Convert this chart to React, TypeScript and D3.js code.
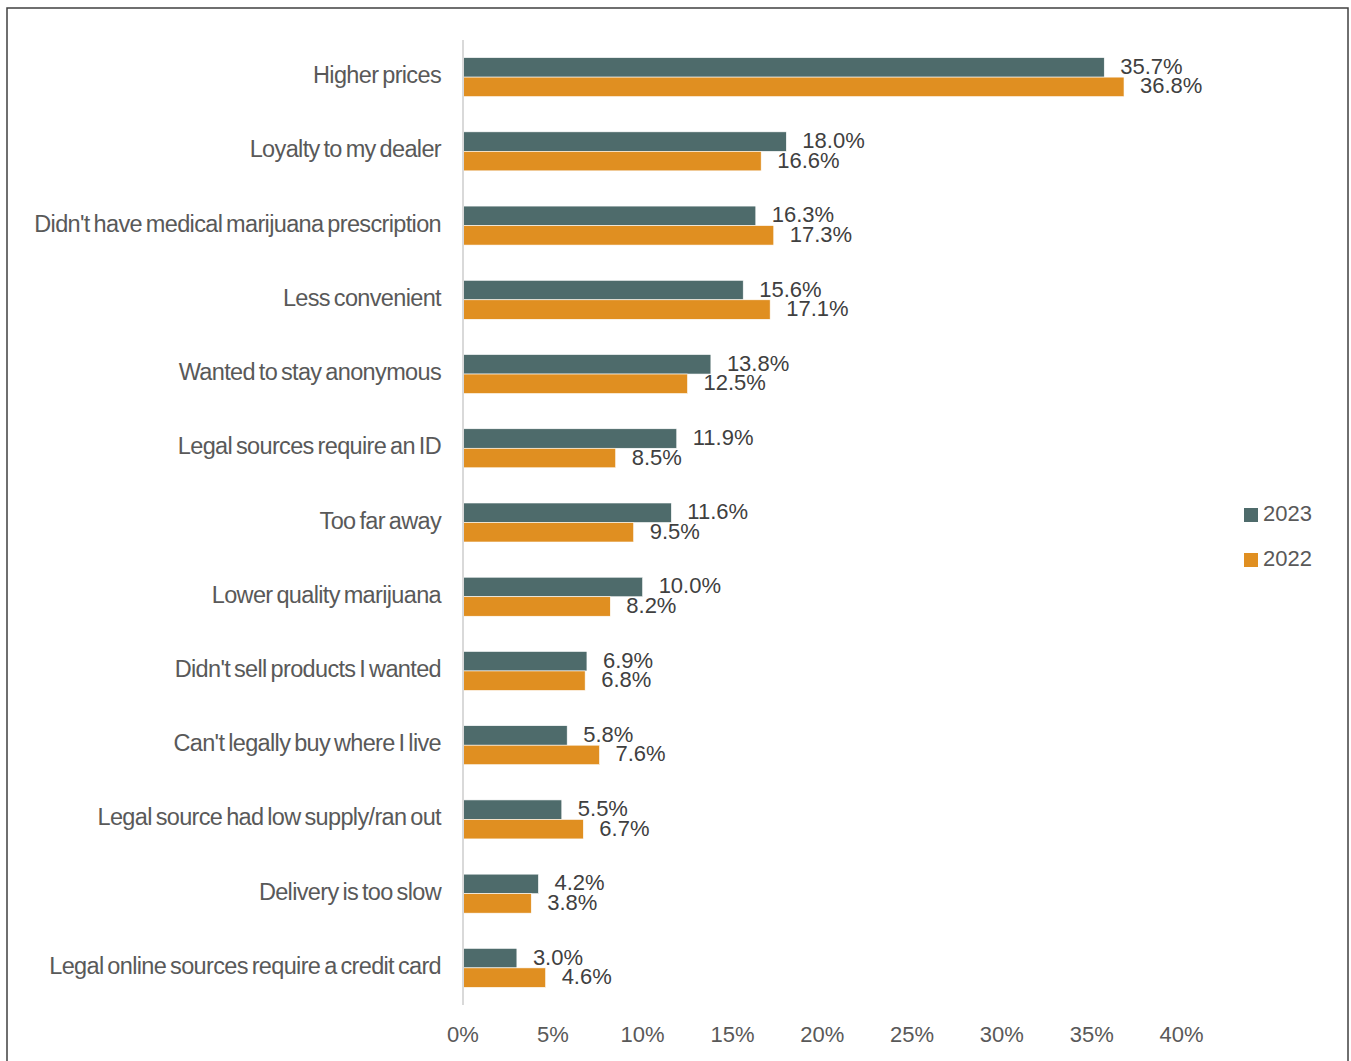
import React from "react";
import * as d3 from "d3";

const categories = [
  "Higher prices",
  "Loyalty to my dealer",
  "Didn't have medical marijuana prescription",
  "Less convenient",
  "Wanted to stay anonymous",
  "Legal sources require an ID",
  "Too far away",
  "Lower quality marijuana",
  "Didn't sell products I wanted",
  "Can't legally buy where I live",
  "Legal source had low supply/ran out",
  "Delivery is too slow",
  "Legal online sources require a credit card",
];
const values2023 = [35.7, 18.0, 16.3, 15.6, 13.8, 11.9, 11.6, 10.0, 6.9, 5.8, 5.5, 4.2, 3.0];
const values2022 = [36.8, 16.6, 17.3, 17.1, 12.5, 8.5, 9.5, 8.2, 6.8, 7.6, 6.7, 3.8, 4.6];
const seriesNames = ["2023", "2022"];
const seriesColors = ["#4e6b6b", "#e08f21"];
const tickValues = [0, 5, 10, 15, 20, 25, 30, 35, 40];

const W = 1351;
const H = 1061;
const FONT = "'Liberation Sans', Arial, sans-serif";

export default function App() {
  const x = d3.scaleLinear().domain([0, 40]).range([463, 1181.5]);
  const y = d3
    .scaleBand<string>()
    .domain(categories)
    .range([40, 1005])
    .paddingInner(0.4746)
    .paddingOuter(0.2373);
  const sub = d3.scaleBand<string>().domain(seriesNames).range([0, y.bandwidth()]);
  const seriesValues = [values2023, values2022];

  return (
    <svg
      width={W}
      height={H}
      style={{ position: "absolute", left: 0, top: 0, background: "#fff" }}
      fontFamily={FONT}
    >
      <rect x={7} y={8} width={1341} height={1070} fill="#fff" stroke="#404040" strokeWidth={1.5} />
      {categories.map((c, i) => (
        <g key={c}>
          <text
            x={441}
            y={(y(c) as number) + y.bandwidth() / 2 - 2}
            textAnchor="end"
            dominantBaseline="central"
            fontSize={23.5}
            letterSpacing={-0.65}
            wordSpacing={-2}
            fill="#595959"
          >
            {c}
          </text>
          {seriesNames.map((s, si) => {
            const v = seriesValues[si][i];
            const by = (y(c) as number) + (sub(s) as number);
            return (
              <g key={s}>
                <rect
                  x={x(0)}
                  y={by}
                  width={x(v) - x(0)}
                  height={sub.bandwidth()}
                  fill={seriesColors[si]}
                  stroke="#fff"
                  strokeWidth={0.6}
                />
                <text
                  x={x(v) + 16}
                  y={by + sub.bandwidth() / 2 - 1}
                  dominantBaseline="central"
                  fontSize={22}
                  fill="#404040"
                >
                  {v.toFixed(1) + "%"}
                </text>
              </g>
            );
          })}
        </g>
      ))}
      <line x1={x(0)} x2={x(0)} y1={40} y2={1005} stroke="#d9d9d9" strokeWidth={2} />
      {tickValues.map((t) => (
        <text
          key={t}
          x={x(t)}
          y={1034}
          textAnchor="middle"
          dominantBaseline="central"
          fontSize={22}
          fill="#595959"
        >
          {t + "%"}
        </text>
      ))}
      {seriesNames.map((s, si) => (
        <g key={s} transform={`translate(1244, ${508 + si * 45})`}>
          <rect x={0} y={0} width={14} height={14} fill={seriesColors[si]} />
          <text x={19} y={5.5} dominantBaseline="central" fontSize={22} fill="#595959">
            {s}
          </text>
        </g>
      ))}
    </svg>
  );
}
